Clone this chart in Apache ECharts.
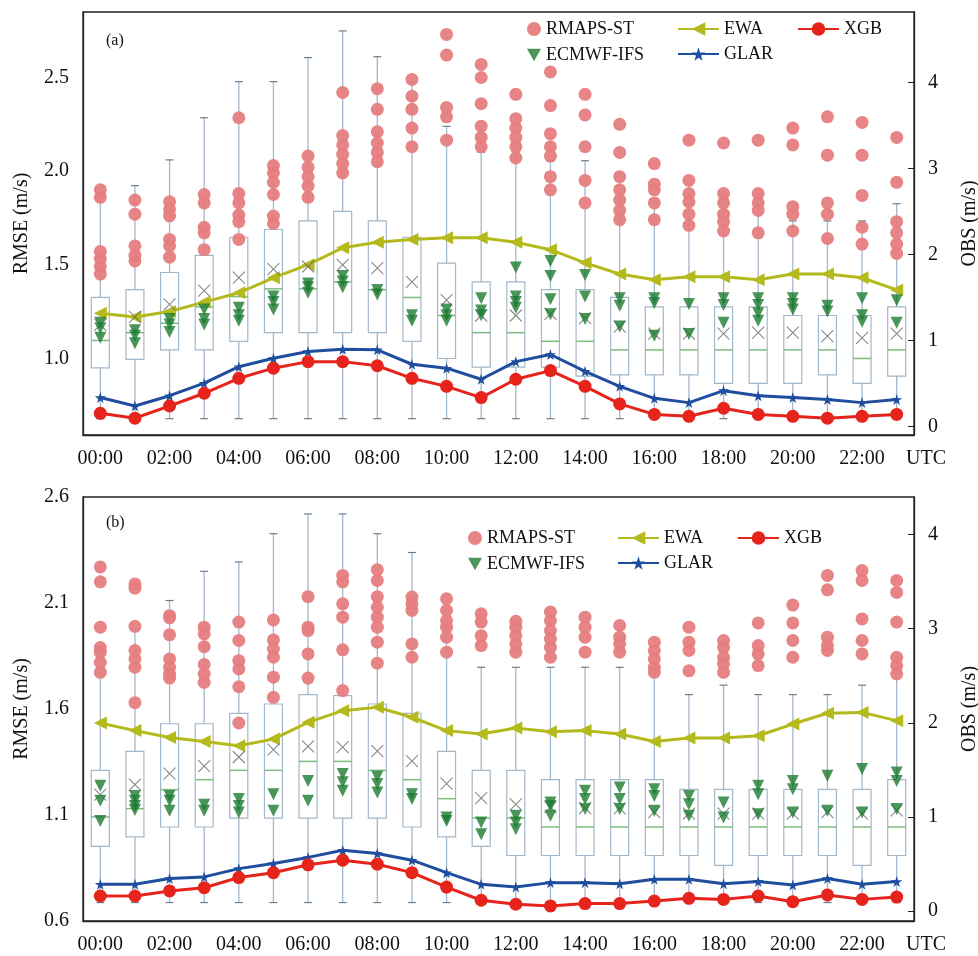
<!DOCTYPE html>
<html><head><meta charset="utf-8">
<script src="https://cdn.jsdelivr.net/npm/echarts@6/dist/echarts.min.js"></script>
<style>html,body{margin:0;padding:0;background:#fff}#c{width:978px;height:956px}</style>
</head><body><div id="c"></div>
<script>
const hours = ['00:00','01:00','02:00','03:00','04:00','05:00','06:00','07:00','08:00','09:00','10:00','11:00',
  '12:00','13:00','14:00','15:00','16:00','17:00','18:00','19:00','20:00','21:00','22:00','23:00'];

// ---------- Panel (a) ----------
const a_EWA  = [1.24,1.22,1.25,1.30,1.35,1.43,1.50,1.59,1.62,1.635,1.644,1.644,1.62,1.58,1.51,1.45,1.42,1.436,1.436,1.42,1.45,1.45,1.43,1.365];
const a_GLAR = [0.79,0.745,0.80,0.867,0.955,1.0,1.036,1.048,1.045,0.968,0.947,0.888,0.982,1.02,0.93,0.85,0.786,0.763,0.827,0.80,0.79,0.78,0.763,0.78];
const a_XGB  = [0.706,0.68,0.745,0.813,0.893,0.947,0.982,0.982,0.96,0.893,0.85,0.79,0.888,0.934,0.85,0.756,0.70,0.69,0.733,0.70,0.69,0.68,0.69,0.70];

const a_boxLow  = [0.09,0.09,0.09,0.09,0.09,0.09,0.09,0.09,0.09,0.09,0.09,0.09,0.09,0.09,0.09,0.09,0.09,0.09,0.09,0.09,0.09,0.09,0.09,0.09];
const a_boxQ1   = [0.68,0.78,0.89,0.89,0.99,1.09,1.09,1.09,1.09,0.99,0.79,0.69,0.69,0.69,0.585,0.60,0.60,0.60,0.50,0.50,0.50,0.60,0.50,0.585];
const a_boxMed  = [1.00,1.09,1.20,1.39,1.51,1.60,1.60,1.68,1.59,1.50,1.29,1.09,1.09,0.99,0.99,0.89,0.89,0.89,0.89,0.89,0.89,0.89,0.79,0.89];
const a_boxQ3   = [1.50,1.59,1.79,1.99,2.20,2.29,2.39,2.50,2.39,2.20,1.90,1.68,1.68,1.59,1.59,1.50,1.39,1.39,1.39,1.39,1.29,1.29,1.29,1.39];
const a_boxHigh = [2.67,2.80,3.10,3.59,4.01,4.01,4.29,4.60,4.30,4.01,3.49,3.19,3.19,3.09,3.09,2.80,2.59,2.59,2.70,2.70,2.39,2.39,2.39,2.59];
const a_boxMean = [1.18,1.275,1.42,1.58,1.73,1.83,1.86,1.88,1.84,1.68,1.47,1.29,1.29,1.31,1.26,1.16,1.08,1.08,1.08,1.09,1.09,1.05,1.03,1.08];

const a_RMAPS = [
 [1.90,1.86,1.57,1.53,1.49,1.45],[1.845,1.77,1.60,1.55,1.52],[1.836,1.795,1.76,1.635,1.60,1.54],
 [1.875,1.83,1.70,1.67,1.58],[2.285,1.88,1.83,1.765,1.73,1.635],[2.03,1.99,1.94,1.875,1.76,1.72],
 [2.08,2.02,1.97,1.92,1.86],[2.42,2.19,2.14,2.09,2.04,1.99],[2.44,2.33,2.21,2.15,2.10,2.05],
 [2.49,2.40,2.33,2.23,2.13],[2.73,2.62,2.34,2.29,2.165],[2.57,2.50,2.36,2.24,2.18,2.13],
 [2.41,2.28,2.23,2.18,2.13,2.07],[2.53,2.35,2.20,2.13,2.08,1.97,1.90],[2.41,2.30,2.13,1.95,1.83],
 [2.25,2.10,1.97,1.90,1.845,1.79,1.74],[2.04,1.93,1.90,1.83,1.74],[2.165,1.95,1.88,1.835,1.77,1.71],
 [2.15,1.88,1.83,1.77,1.73,1.68],[2.165,1.88,1.83,1.79,1.67],[2.23,2.14,1.81,1.77,1.68],
 [2.29,2.085,1.83,1.77,1.64],[2.26,2.085,1.87,1.70,1.61],[2.18,1.94,1.73,1.67,1.61,1.56]
];
const a_ECMWF = [
 [1.19,1.16,1.11],[1.15,1.12,1.08],[1.21,1.18,1.14],[1.26,1.21,1.18],[1.27,1.23,1.20],[1.33,1.30,1.26],
 [1.40,1.38,1.35],[1.44,1.41,1.38],[1.365,1.34],[1.23,1.20],[1.26,1.23,1.20],[1.32,1.255,1.23],
 [1.485,1.33,1.30,1.27],[1.52,1.44,1.315,1.235],[1.445,1.33,1.21],[1.32,1.28,1.17],[1.32,1.295,1.12],[1.29,1.13],
 [1.32,1.285,1.19],[1.32,1.285,1.24,1.20],[1.32,1.29,1.26],[1.28,1.25],[1.32,1.23,1.195],[1.31,1.19]
];

// ---------- Panel (b) ----------
const b_EWA  = [1.534,1.498,1.466,1.447,1.427,1.458,1.537,1.592,1.608,1.561,1.498,1.482,1.51,1.493,1.498,1.482,1.447,1.463,1.463,1.474,1.529,1.58,1.584,1.545];
const b_GLAR = [0.773,0.773,0.80,0.808,0.847,0.871,0.90,0.934,0.918,0.887,0.828,0.773,0.76,0.781,0.781,0.776,0.797,0.797,0.776,0.786,0.77,0.80,0.773,0.786];
const b_XGB  = [0.718,0.718,0.742,0.757,0.805,0.828,0.865,0.887,0.868,0.828,0.76,0.698,0.679,0.671,0.682,0.682,0.694,0.707,0.702,0.718,0.691,0.723,0.702,0.713];

const b_boxLow  = [0.09,0.09,0.09,0.09,0.09,0.09,0.09,0.09,0.09,0.09,0.09,0.09,0.09,0.09,0.09,0.09,0.09,0.09,0.09,0.09,0.09,0.09,0.09,0.09];
const b_boxQ1   = [0.687,0.787,0.893,0.893,0.988,0.988,0.988,0.988,0.988,0.893,0.787,0.687,0.59,0.59,0.59,0.59,0.59,0.59,0.485,0.59,0.59,0.59,0.485,0.59];
const b_boxMed  = [1.00,1.088,1.29,1.396,1.495,1.495,1.59,1.59,1.495,1.396,1.194,0.988,0.988,0.893,0.893,0.893,0.893,0.893,0.893,0.893,0.893,0.893,0.893,0.893];
const b_boxQ3   = [1.495,1.697,1.99,1.99,2.10,2.20,2.30,2.29,2.20,2.10,1.697,1.495,1.495,1.396,1.396,1.396,1.396,1.293,1.293,1.293,1.293,1.293,1.293,1.396];
const b_boxHigh = [2.59,3.0,3.30,3.61,3.71,4.01,4.22,4.22,4.01,3.81,3.0,2.59,2.59,2.59,2.59,2.59,2.59,2.30,2.40,2.30,2.30,2.30,2.40,2.59];
const b_boxMean = [1.236,1.343,1.46,1.54,1.637,1.715,1.75,1.743,1.70,1.594,1.353,1.20,1.134,1.105,1.095,1.09,1.052,1.035,1.035,1.035,1.035,1.052,1.035,1.07];

const b_RMAPS = [
 [2.27,2.20,1.986,1.89,1.868,1.82,1.773],[2.19,2.17,1.99,1.876,1.836,1.797,1.63],[2.04,2.03,1.95,1.836,1.797,1.765,1.746],
 [1.986,1.954,1.894,1.81,1.765,1.726],[2.01,1.923,1.828,1.789,1.705,1.534],[2.02,1.926,1.883,1.844,1.75,1.655],
 [2.13,1.986,1.97,1.86,1.746],[2.23,2.20,2.096,2.033,1.879,1.687],[2.257,2.206,2.13,2.08,2.033,1.986,1.915,1.816],
 [2.128,2.096,2.065,1.907,1.844],[2.12,2.065,2.017,1.986,1.939,1.868],[2.049,2.01,1.946,1.899],
 [2.014,1.986,1.946,1.907,1.868],[2.057,2.017,1.97,1.93,1.891,1.844],[2.033,1.986,1.939,1.868],
 [1.994,1.939,1.907,1.868],[1.915,1.876,1.836,1.797,1.773],[1.986,1.915,1.876,1.78],
 [1.923,1.891,1.844,1.813,1.773],[2.006,1.899,1.86,1.805],[2.09,2.006,1.923,1.844],
 [2.23,2.162,1.939,1.899,1.876],[2.253,2.206,2.025,1.923,1.86],[2.206,2.15,2.01,1.844,1.805,1.765]
];
const b_ECMWF = [
 [1.238,1.167,1.072],[1.19,1.167,1.143,1.123],[1.19,1.167,1.12],[1.148,1.12],[1.175,1.143,1.112],[1.198,1.12],
 [1.26,1.167],[1.293,1.254,1.214],[1.28,1.246,1.206],[1.198,1.175],[1.088,1.072],[1.065,1.009],
 [1.096,1.065,1.033],[1.159,1.143,1.096],[1.214,1.175,1.128],[1.23,1.175,1.128],[1.222,1.19,1.12],[1.19,1.151,1.096],
 [1.159,1.088],[1.238,1.198,1.104],[1.26,1.222,1.112],[1.285,1.12],[1.317,1.112],[1.30,1.26,1.128]
];

const a_leftTicks = [1.0,1.5,2.0,2.5];
const b_leftTicks = [0.6,1.1,1.6,2.1,2.6];
const rightTicks = [0,1,2,3,4];

// ---------- styling ----------
const FONT = 'Liberation Serif';
const C_RMAPS = '#e67d80', C_ECMWF = '#1b7a31', C_EWA = '#b5ba1c', C_GLAR = '#1f4e9f', C_XGB = '#e6241c';
const STAR = 'path://M50,0 L61,35 L98,35 L68,57 L79,91 L50,70 L21,91 L32,57 L2,35 L39,35 Z';
const CROSS = 'path://M0,0L10,10M10,0L0,10';
const DOWN_TRI = 'path://M0,0L10,0L5,9Z';

function scatterData(arr){ const out=[]; arr.forEach((vals,i)=>vals.forEach(v=>out.push([hours[i],v]))); return out; }
function boxData(lo,q1,md,q3,hi){ return hours.map((h,i)=>[i,lo[i],q1[i],md[i],q3[i],hi[i]]); }

function renderBox(params, api){
  const x = api.value(0);
  const pLo = api.coord([x, api.value(1)]), pQ1 = api.coord([x, api.value(2)]),
        pMd = api.coord([x, api.value(3)]), pQ3 = api.coord([x, api.value(4)]), pHi = api.coord([x, api.value(5)]);
  const bw = api.size([1,0])[0]*0.52, cx = pLo[0], cap = 4;
  const wc = '#a3b7ca';
  return {type:'group', children:[
    {type:'line', shape:{x1:cx,y1:pQ3[1],x2:cx,y2:pHi[1]}, style:{stroke:wc,lineWidth:1.3}},
    {type:'line', shape:{x1:cx,y1:pQ1[1],x2:cx,y2:pLo[1]}, style:{stroke:wc,lineWidth:1.3}},
    {type:'line', shape:{x1:cx-cap,y1:pHi[1],x2:cx+cap,y2:pHi[1]}, style:{stroke:'#6d7d8c',lineWidth:1.2}},
    {type:'line', shape:{x1:cx-cap,y1:pLo[1],x2:cx+cap,y2:pLo[1]}, style:{stroke:'#6d7d8c',lineWidth:1.2}},
    {type:'rect', shape:{x:cx-bw/2,y:pQ3[1],width:bw,height:pQ1[1]-pQ3[1]}, style:{fill:'#fff',stroke:wc,lineWidth:1.2}},
    {type:'line', shape:{x1:cx-bw/2,y1:pMd[1],x2:cx+bw/2,y2:pMd[1]}, style:{stroke:'#7fbb7f',lineWidth:1.5}}
  ]};
}

function panelSeries(g, EWA, GLAR, XGB, RMAPS, ECMWF, box, mean){
  const yl = g*2, yr = g*2+1;
  return [
    {type:'custom', name:'OBS', xAxisIndex:g, yAxisIndex:yr, renderItem:renderBox, data:box,
     encode:{x:0,y:[1,2,3,4,5]}, z:1, silent:true},
    {type:'line', name:'EWA', xAxisIndex:g, yAxisIndex:yl, data:EWA, symbol:'triangle', symbolRotate:90, symbolSize:13,
     lineStyle:{color:C_EWA,width:3}, itemStyle:{color:C_EWA}, z:3},
    {type:'line', name:'GLAR', xAxisIndex:g, yAxisIndex:yl, data:GLAR, symbol:STAR, symbolSize:11,
     lineStyle:{color:C_GLAR,width:3}, itemStyle:{color:C_GLAR}, z:3},
    {type:'line', name:'XGB', xAxisIndex:g, yAxisIndex:yl, data:XGB, symbol:'circle', symbolSize:13,
     lineStyle:{color:C_XGB,width:3}, itemStyle:{color:C_XGB}, z:3},
    {type:'scatter', name:'RMAPS-ST', xAxisIndex:g, yAxisIndex:yl, data:scatterData(RMAPS), symbol:'circle', symbolSize:13,
     itemStyle:{color:C_RMAPS, opacity:0.95}, z:4},
    {type:'scatter', name:'mean', xAxisIndex:g, yAxisIndex:yr, data:hours.map((h,i)=>[h,mean[i]]), symbol:CROSS, symbolSize:12,
     itemStyle:{color:'none', borderColor:'#6b6b6b', borderWidth:1.1}, z:5, silent:true},
    {type:'scatter', name:'ECMWF-IFS', xAxisIndex:g, yAxisIndex:yl, data:scatterData(ECMWF), symbol:'triangle', symbolRotate:180, symbolSize:12,
     itemStyle:{color:C_ECMWF}, z:6}
  ];
}

const txt = {fontFamily:FONT, color:'#111', fontSize:20};
function xAx(g){
  return {type:'category', gridIndex:g, data:hours, boundaryGap:true,
    axisLine:{onZero:false, lineStyle:{color:'#222',width:1.3}},
    axisTick:{inside:true, length:6, interval:0, alignWithLabel:true, lineStyle:{color:'#222'}},
    axisLabel:{interval:1, margin:14, fontFamily:FONT, color:'#111', fontSize:20},
    name:'UTC', nameLocation:'end', nameGap:-8,
    nameTextStyle:{fontFamily:FONT, color:'#111', fontSize:20, verticalAlign:'top', padding:[14,0,0,0]},
    splitLine:{show:false}};
}
function yLeft(g, min, max, ticks){
  return {type:'value', gridIndex:g, position:'left', min:min, max:max,
    axisLine:{show:true, onZero:false, lineStyle:{color:'#222',width:1.3}}, axisTick:{show:false},
    axisLabel:{customValues:ticks, formatter:v=>v.toFixed(1), margin:14, ...txt},
    splitLine:{show:false},
    name:'RMSE (m/s)', nameLocation:'middle', nameGap:51, nameTextStyle:{...txt}};
}
function yRight(g, min, max){
  return {type:'value', gridIndex:g, position:'right', min:min, max:max,
    axisLine:{show:true, onZero:false, lineStyle:{color:'#222',width:1.3}},
    axisTick:{show:true, inside:true, length:6, customValues:rightTicks, lineStyle:{color:'#222'}},
    axisLabel:{customValues:rightTicks, formatter:v=>String(Math.round(v)), margin:14, ...txt},
    splitLine:{show:false},
    name:'OBS (m/s)', nameLocation:'middle', nameGap:46, nameTextStyle:{...txt}};
}
const legTxt = {fontFamily:FONT, color:'#111', fontSize:18};
function legs(top, l1, l2, l3){
  return [
    {data:['RMAPS-ST',{name:'ECMWF-IFS', icon:DOWN_TRI}], orient:'vertical', left:l1, top:top, itemWidth:14, itemHeight:14, itemGap:8, textStyle:legTxt, selectedMode:false},
    {data:['EWA','GLAR'], orient:'vertical', left:l2, top:top, itemWidth:41, itemHeight:17, itemGap:7, textStyle:legTxt, selectedMode:false},
    {data:['XGB'], orient:'vertical', left:l3, top:top, itemWidth:41, itemHeight:17, itemGap:7, textStyle:legTxt, selectedMode:false}
  ];
}

const option = {
  animation:false,
  backgroundColor:'#fff',
  title:[
    {text:'(a)', left:106, top:33, padding:0, textStyle:{fontFamily:FONT, fontSize:16, fontWeight:'normal', color:'#111'}},
    {text:'(b)', left:106, top:515, padding:0, textStyle:{fontFamily:FONT, fontSize:16, fontWeight:'normal', color:'#111'}}
  ],
  legend:[...legs(15,522,672,792), ...legs(524,463,612,732)],
  grid:[
    {left:83, right:64, top:12, height:423, show:true, borderColor:'#222', borderWidth:1.3, backgroundColor:'transparent', outerBoundsMode:'none', containLabel:false},
    {left:83, right:64, top:497, height:424, show:true, borderColor:'#222', borderWidth:1.3, backgroundColor:'transparent', outerBoundsMode:'none', containLabel:false}
  ],
  xAxis:[xAx(0), xAx(1)],
  yAxis:[yLeft(0,0.59,2.85,a_leftTicks), yRight(0,-0.10,4.82), yLeft(1,0.6,2.6,b_leftTicks), yRight(1,-0.106,4.40)],
  series:[
    ...panelSeries(0, a_EWA, a_GLAR, a_XGB, a_RMAPS, a_ECMWF, boxData(a_boxLow,a_boxQ1,a_boxMed,a_boxQ3,a_boxHigh), a_boxMean),
    ...panelSeries(1, b_EWA, b_GLAR, b_XGB, b_RMAPS, b_ECMWF, boxData(b_boxLow,b_boxQ1,b_boxMed,b_boxQ3,b_boxHigh), b_boxMean)
  ]
};
const chart = echarts.init(document.getElementById('c'), null, {renderer:'canvas'});
chart.setOption(option);
</script></body></html>
